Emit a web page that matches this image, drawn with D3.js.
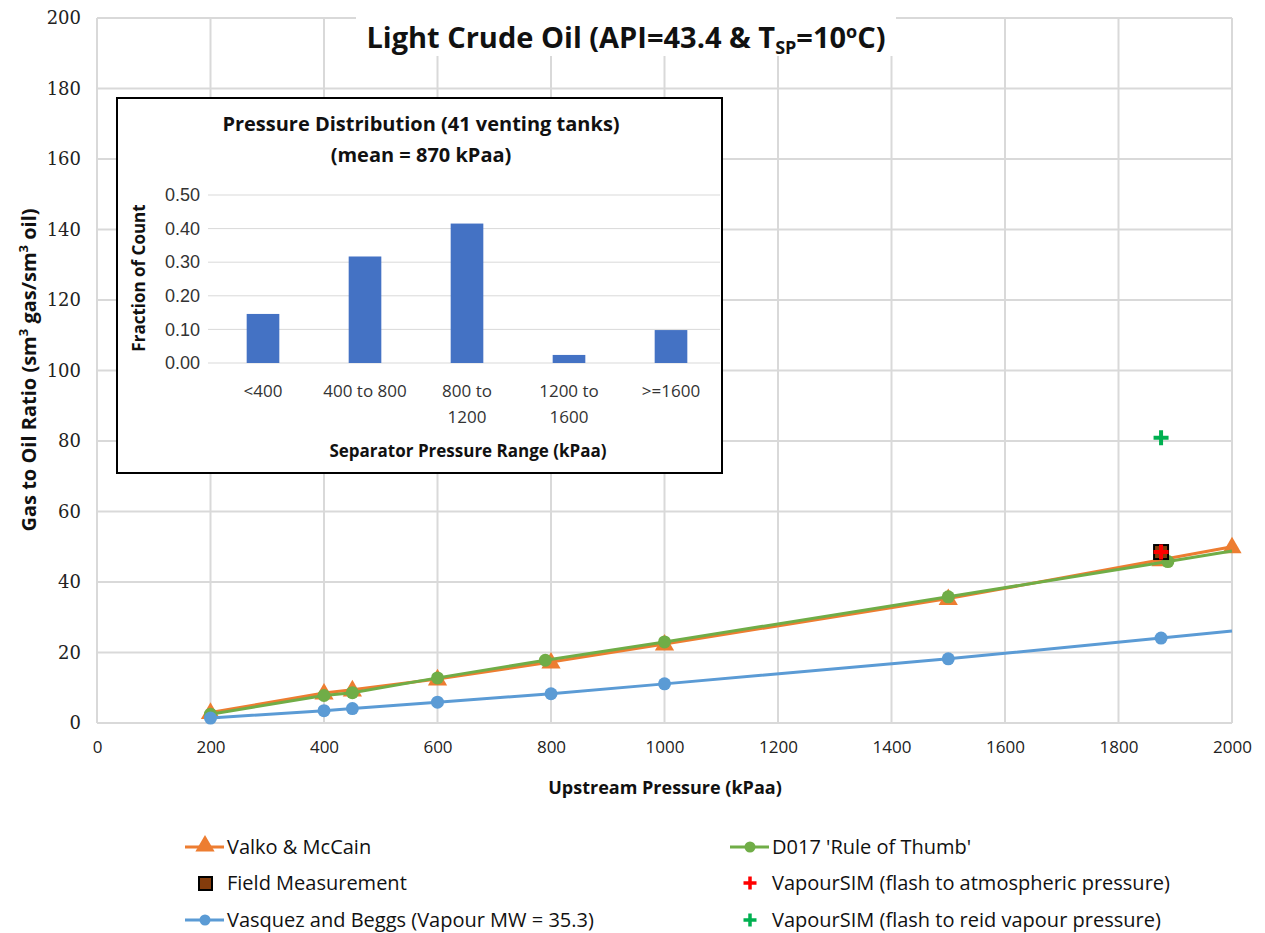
<!DOCTYPE html>
<html>
<head>
<meta charset="utf-8">
<script src="https://cdn.jsdelivr.net/npm/d3@7"></script>
<style>
  body { margin: 0; background: #fff; }
  svg { font-family: "Open Sans", "Liberation Sans", sans-serif; }
</style>
</head>
<body>
<div class="grafico"></div>
<script>
// Valko & McCain
var pressioneVM = [200, 400, 450, 600, 800, 1000, 1500, 1875, 2000];
var gorVM = [3.0, 8.5, 9.4, 12.5, 17.3, 22.4, 35.3, 46.3, 50.0];
// D017 'Rule of Thumb'
var pressioneD017 = [200, 400, 450, 600, 790, 1000, 1500, 1887, 2000];
var gorD017 = [2.5, 7.8, 8.6, 12.8, 17.8, 23.0, 35.8, 45.8, 48.8];
// Vasquez and Beggs
var pressioneVB = [200, 400, 450, 600, 800, 1000, 1500, 1875, 2000];
var gorVB = [1.4, 3.5, 4.1, 5.9, 8.3, 11.1, 18.2, 24.1, 26.1];
// punti singoli
var campo = [1875, 48.5];
var flashAtm = [1875, 48.5];
var flashReid = [1875, 80.9];

// istogramma nel riquadro
var categorie = ["<400", "400 to 800", "800 to 1200", "1200 to 1600", ">=1600"];
var frazioni = [0.146, 0.317, 0.415, 0.024, 0.098];

var xTicks = [0, 200, 400, 600, 800, 1000, 1200, 1400, 1600, 1800, 2000];
var yTicks = [0, 20, 40, 60, 80, 100, 120, 140, 160, 180, 200];
var insetTicks = [0, 0.1, 0.2, 0.3, 0.4, 0.5];

var w = 1265, h = 933;
var sx = 97, dx = 1232, alto = 18, basso = 723;

var arancio = "#ED7D31", verde = "#70AD47", blu = "#5B9BD5";

var svg = d3.select(".grafico").append("svg")
  .attr("width", w).attr("height", h);

var x = d3.scaleLinear().domain([0, 2000]).range([sx, dx]);
var y = d3.scaleLinear().domain([0, 200]).range([basso, alto]);

// griglia
svg.append("g")
  .selectAll("line.v").data(xTicks).enter().append("line")
  .attr("x1", function (d) { return x(d); }).attr("x2", function (d) { return x(d); })
  .attr("y1", alto).attr("y2", basso)
  .attr("stroke", "#d9d9d9").attr("stroke-width", 2);
svg.append("g")
  .selectAll("line.h").data(yTicks).enter().append("line")
  .attr("x1", sx).attr("x2", dx)
  .attr("y1", function (d) { return y(d); }).attr("y2", function (d) { return y(d); })
  .attr("stroke", "#d9d9d9").attr("stroke-width", 2);

// assi
var assex = svg.append("g")
  .attr("transform", "translate(0," + basso + ")")
  .call(d3.axisBottom(x).tickValues(xTicks).tickSize(0).tickPadding(18).tickFormat(d3.format("d")));
assex.select(".domain").remove();
assex.selectAll("text").attr("font-size", 17).attr("fill", "#222")
  .attr("font-family", "'Open Sans', sans-serif");

var assey = svg.append("g")
  .attr("transform", "translate(" + sx + ",0)")
  .call(d3.axisLeft(y).tickValues(yTicks).tickSize(0).tickPadding(16).tickFormat(d3.format("d")));
assey.select(".domain").remove();
assey.selectAll("text").attr("font-size", 18).attr("fill", "#222")
  .attr("font-family", "'DejaVu Serif', serif");

// titolo
svg.append("rect").attr("x", 356).attr("y", 13).attr("width", 540).attr("height", 43).attr("fill", "#fff");
var titolo = svg.append("text")
  .attr("x", 626).attr("y", 48)
  .attr("text-anchor", "middle")
  .attr("font-size", 29).attr("font-weight", "bold").attr("fill", "#111");
titolo.append("tspan").text("Light Crude Oil (API=43.4 & T");
titolo.append("tspan").attr("font-size", 18).attr("dy", 6).text("SP");
titolo.append("tspan").attr("dy", -6).text("=10");
titolo.append("tspan").attr("font-size", 18).attr("dy", -10).text("o");
titolo.append("tspan").attr("dy", 10).text("C)");

// titoli assi
svg.append("text")
  .attr("x", 665).attr("y", 794)
  .attr("text-anchor", "middle")
  .attr("font-size", 18).attr("font-weight", "bold").attr("fill", "#111")
  .text("Upstream Pressure (kPaa)");

var ylab = svg.append("text")
  .attr("transform", "translate(36,370) rotate(-90)")
  .attr("text-anchor", "middle")
  .attr("font-size", 20).attr("font-weight", "bold").attr("fill", "#111");
ylab.append("tspan").text("Gas to Oil Ratio (sm");
ylab.append("tspan").attr("font-size", 13).attr("dy", -8).text("3");
ylab.append("tspan").attr("dy", 8).text(" gas/sm");
ylab.append("tspan").attr("font-size", 13).attr("dy", -8).text("3");
ylab.append("tspan").attr("dy", 8).text(" oil)");

// serie
function serie(px, py) {
  return px.map(function (p, i) { return { p: p, g: py[i] }; });
}
var datiVM = serie(pressioneVM, gorVM);
var datiD017 = serie(pressioneD017, gorD017);
var datiVB = serie(pressioneVB, gorVB);

var linea = d3.line()
  .x(function (d) { return x(d.p); })
  .y(function (d) { return y(d.g); });

var triangolo = d3.symbol().type(d3.symbolTriangle).size(160);

function disegnaSerie(dati, colore, tipo, conUltimo) {
  var g = svg.append("g");
  g.append("path").datum(dati)
    .attr("d", linea).attr("fill", "none")
    .attr("stroke", colore).attr("stroke-width", 3);
  var punti = conUltimo ? dati : dati.slice(0, dati.length - 1);
  if (tipo == "tri") {
    g.selectAll("path.m").data(punti).enter().append("path")
      .attr("d", triangolo)
      .attr("transform", function (d) { return "translate(" + x(d.p) + "," + (y(d.g) + 1) + ")"; })
      .attr("fill", colore);
  } else {
    g.selectAll("circle").data(punti).enter().append("circle")
      .attr("cx", function (d) { return x(d.p); })
      .attr("cy", function (d) { return y(d.g); })
      .attr("r", 6.5).attr("fill", colore);
  }
}
disegnaSerie(datiVM, arancio, "tri", true);
disegnaSerie(datiD017, verde, "circ", false);
disegnaSerie(datiVB, blu, "circ", false);

// misura di campo
svg.append("rect")
  .attr("x", x(campo[0]) - 7).attr("y", y(campo[1]) - 7)
  .attr("width", 14).attr("height", 14)
  .attr("fill", "#843C0C").attr("stroke", "#000").attr("stroke-width", 2);

function croce(px, py, colore) {
  var cx = x(px), cy = y(py);
  svg.append("path")
    .attr("d", "M" + (cx - 7.5) + "," + cy + "H" + (cx + 7.5) + "M" + cx + "," + (cy - 7.5) + "V" + (cy + 7.5))
    .attr("stroke", colore).attr("stroke-width", 4);
}
croce(flashAtm[0], flashAtm[1], "#FF0000");
croce(flashReid[0], flashReid[1], "#00B050");

// riquadro istogramma
var ins = svg.append("g");
ins.append("rect").attr("x", 117).attr("y", 98).attr("width", 605).attr("height", 375)
  .attr("fill", "#fff").attr("stroke", "#000").attr("stroke-width", 2);

var xb = d3.scaleBand().domain(categorie).range([212, 722]).paddingInner(0.68).paddingOuter(0.34);
var yb = d3.scaleLinear().domain([0, 0.5]).range([363, 195]);

ins.selectAll("line.g").data(insetTicks).enter().append("line")
  .attr("x1", 208).attr("x2", 720)
  .attr("y1", function (d) { return yb(d); }).attr("y2", function (d) { return yb(d); })
  .attr("stroke", "#d9d9d9").attr("stroke-width", 1);

ins.selectAll("rect.barra").data(frazioni).enter().append("rect")
  .attr("x", function (d, i) { return xb(categorie[i]); })
  .attr("width", xb.bandwidth())
  .attr("y", function (d) { return yb(d); })
  .attr("height", function (d) { return yb(0) - yb(d); })
  .attr("fill", "#4472C4");

var ay = ins.append("g").attr("transform", "translate(205,0)")
  .call(d3.axisLeft(yb).tickValues(insetTicks).tickSize(0).tickPadding(5).tickFormat(d3.format(".2f")));
ay.select(".domain").remove();
ay.selectAll("text").attr("font-size", 18).attr("fill", "#333");

// etichette categorie (a capo come nel grafico)
var righe = [["<400"], ["400 to 800"], ["800 to", "1200"], ["1200 to", "1600"], [">=1600"]];
categorie.forEach(function (c, i) {
  var t = ins.append("text")
    .attr("x", xb(c) + xb.bandwidth() / 2).attr("y", 397)
    .attr("text-anchor", "middle").attr("font-size", 17).attr("fill", "#333");
  righe[i].forEach(function (r, k) {
    t.append("tspan").attr("x", xb(c) + xb.bandwidth() / 2).attr("dy", k == 0 ? 0 : 26).text(r);
  });
});

ins.append("text").attr("x", 421).attr("y", 131).attr("text-anchor", "middle")
  .attr("font-size", 20).attr("font-weight", "bold").attr("fill", "#111")
  .text("Pressure Distribution (41 venting tanks)");
ins.append("text").attr("x", 421).attr("y", 162).attr("text-anchor", "middle")
  .attr("font-size", 20).attr("font-weight", "bold").attr("fill", "#111")
  .text("(mean = 870 kPaa)");
ins.append("text").attr("x", 468).attr("y", 457).attr("text-anchor", "middle")
  .attr("font-size", 17).attr("font-weight", "bold").attr("fill", "#111")
  .text("Separator Pressure Range (kPaa)");
ins.append("text").attr("transform", "translate(145,278) rotate(-90)").attr("text-anchor", "middle")
  .attr("font-size", 17).attr("font-weight", "bold").attr("fill", "#111")
  .text("Fraction of Count");

// legenda
var leg = svg.append("g").attr("font-size", 20).attr("fill", "#111");
function vocLinea(x0, yy, colore, tipo, testo) {
  leg.append("line").attr("x1", x0).attr("x2", x0 + 39).attr("y1", yy).attr("y2", yy)
    .attr("stroke", colore).attr("stroke-width", 3);
  if (tipo == "tri") {
    leg.append("path").attr("d", triangolo).attr("transform", "translate(" + (x0 + 20) + "," + (yy - 1) + ")").attr("fill", colore);
  } else {
    leg.append("circle").attr("cx", x0 + 20).attr("cy", yy).attr("r", 5.5).attr("fill", colore);
  }
  leg.append("text").attr("x", x0 + 42).attr("y", yy + 7).text(testo);
}
vocLinea(185, 847, arancio, "tri", "Valko & McCain");
vocLinea(730, 847, verde, "circ", "D017 'Rule of Thumb'");
vocLinea(185, 920, blu, "circ", "Vasquez and Beggs (Vapour MW = 35.3)");

leg.append("rect").attr("x", 199).attr("y", 877).attr("width", 13).attr("height", 13)
  .attr("fill", "#843C0C").attr("stroke", "#000").attr("stroke-width", 2);
leg.append("text").attr("x", 227).attr("y", 890).text("Field Measurement");

function vocCroce(cx, cy, colore, testo) {
  leg.append("path")
    .attr("d", "M" + (cx - 6.5) + "," + cy + "H" + (cx + 6.5) + "M" + cx + "," + (cy - 6.5) + "V" + (cy + 6.5))
    .attr("stroke", colore).attr("stroke-width", 3.5);
  leg.append("text").attr("x", cx + 22).attr("y", cy + 7).text(testo);
}
vocCroce(750, 883, "#FF0000", "VapourSIM (flash to atmospheric pressure)");
vocCroce(750, 920, "#00B050", "VapourSIM (flash to reid vapour pressure)");
</script>
</body>
</html>
